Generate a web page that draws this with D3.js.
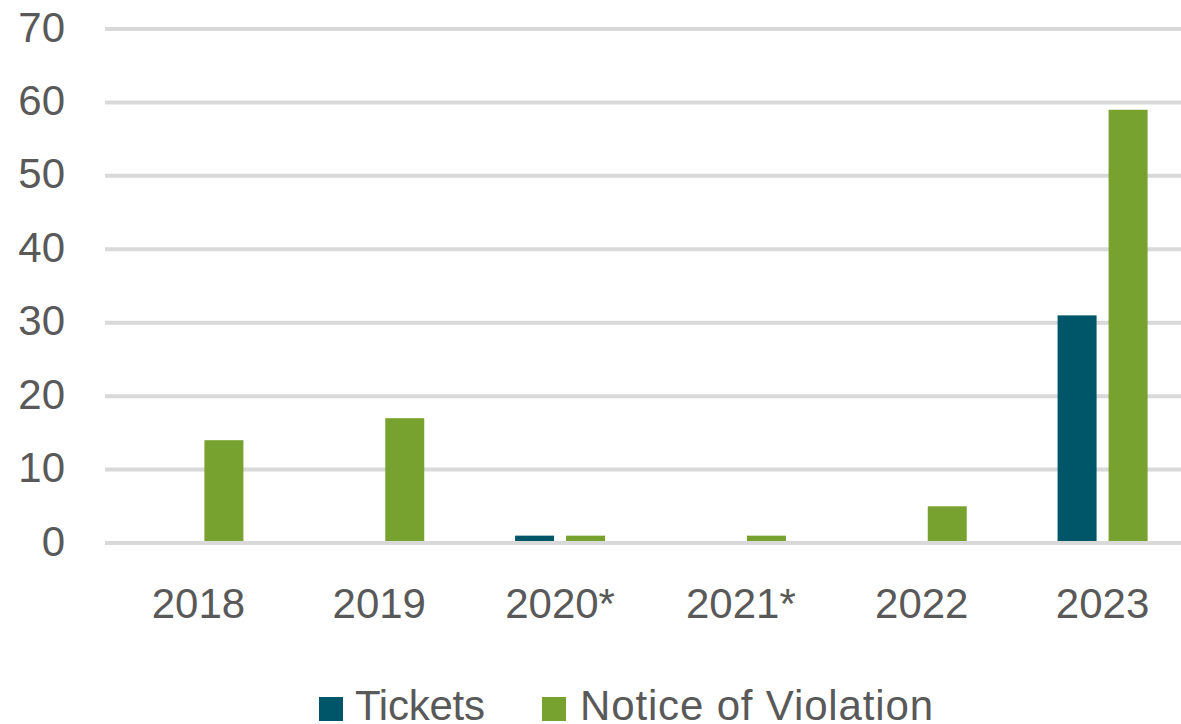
<!DOCTYPE html>
<html>
<head>
<meta charset="utf-8">
<script src="https://cdn.jsdelivr.net/npm/d3@7/dist/d3.min.js"></script>
<style>
  html, body { margin: 0; padding: 0; background: #fff; overflow: hidden; }
  svg { display: block; }
  text { font-family: "Liberation Sans", Arial, sans-serif; fill: #595959; }
</style>
</head>
<body>
<svg id="chart" width="1181" height="724"></svg>
<script>
const categories = ["2018", "2019", "2020*", "2021*", "2022", "2023"];
const seriesNames = ["Tickets", "Notice of Violation"];
const tickets = [0, 0, 1, 0, 0, 31];
const noticeOfViolation = [14, 17, 1, 1, 5, 59];
const yTicks = [0, 10, 20, 30, 40, 50, 60, 70];
const colors = ["#005669", "#78A22F"];

const seriesValues = [tickets, noticeOfViolation];
const data = categories.map((c, i) => ({
  cat: c,
  vals: seriesNames.map((s, j) => ({ key: s, value: seriesValues[j][i] }))
}));

const svg = d3.select("#chart");
const fontSize = 42;

const y = d3.scaleLinear().domain([0, 70]).range([543, 29]);
const x = d3.scaleBand().domain(categories).range([108, 1193]).padding(0);
const bw = x.bandwidth();
const xSub = d3.scaleBand().domain(seriesNames)
  .range([bw / 2 - 45, bw / 2 + 45]).paddingInner(2 - 90 / 51).paddingOuter(0);
const color = d3.scaleOrdinal().domain(seriesNames).range(colors);

// gridlines
const grid = svg.append("g");
grid.selectAll("line").data(yTicks).join("line")
  .attr("x1", 105).attr("x2", 1195)
  .attr("y1", d => y(d)).attr("y2", d => y(d))
  .attr("stroke", "#d9d9d9").attr("stroke-width", 4);

// y labels
svg.append("g").selectAll("text").data(yTicks).join("text")
  .attr("x", 65).attr("y", d => y(d) - 2.5)
  .attr("dy", "0.36em")
  .attr("text-anchor", "end")
  .style("font-size", fontSize + "px")
  .text(d => d);

// bars
const groups = svg.append("g").selectAll("g").data(data).join("g")
  .attr("transform", d => `translate(${x(d.cat)},0)`);
groups.selectAll("rect").data(d => d.vals.filter(v => v.value > 0)).join("rect")
  .attr("x", d => xSub(d.key))
  .attr("width", xSub.bandwidth())
  .attr("y", d => y(d.value))
  .attr("height", d => y(0) - y(d.value))
  .attr("fill", d => color(d.key));

// zero line on top
svg.append("line")
  .attr("x1", 105).attr("x2", 1195)
  .attr("y1", y(0)).attr("y2", y(0))
  .attr("stroke", "#d9d9d9").attr("stroke-width", 4);

// x labels
svg.append("g").selectAll("text").data(categories).join("text")
  .attr("x", d => x(d) + bw / 2)
  .attr("y", 618)
  .attr("text-anchor", "middle")
  .style("font-size", fontSize + "px")
  .text(d => d);

// legend
const legendPos = [{ sx: 319, tx: 355, len: 130 }, { sx: 542, tx: 580, len: 353 }];
const leg = svg.append("g").selectAll("g").data(seriesNames).join("g");
leg.append("rect")
  .attr("x", (d, i) => legendPos[i].sx).attr("y", 697)
  .attr("width", 24).attr("height", 24)
  .attr("fill", d => color(d));
leg.append("text")
  .attr("x", (d, i) => legendPos[i].tx).attr("y", 720)
  .attr("textLength", (d, i) => legendPos[i].len)
  .attr("lengthAdjust", "spacing")
  .style("font-size", fontSize + "px")
  .text(d => d);
</script>
</body>
</html>
